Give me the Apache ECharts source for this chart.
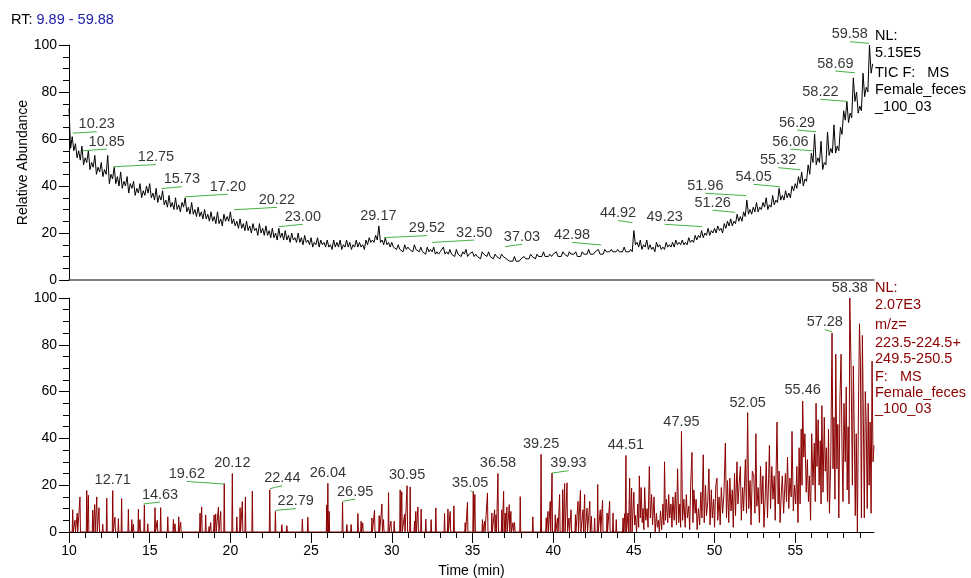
<!DOCTYPE html>
<html><head><meta charset="utf-8">
<script src="https://cdn.jsdelivr.net/npm/echarts@6/dist/echarts.min.js"></script>
<style>html,body{margin:0;padding:0;background:#fff}#c{width:971px;height:578px}</style>
</head><body><div id="c"></div>
<script>
const FONT = '"Liberation Sans", Arial, sans-serif';
const rtLabel = 'RT:';
const rtRange = '9.89 - 59.88';
const xTickLabels = [10, 15, 20, 25, 30, 35, 40, 45, 50, 55];
const xMinorTicks = [11,12,13,14,16,17,18,19,21,22,23,24,26,27,28,29,31,32,33,34,36,37,38,39,41,42,43,44,46,47,48,49,51,52,53,54,56,57,58,59];
const yTickLabels = [0, 20, 40, 60, 80, 100];

// TIC trace (top): scans at 10.0, 10.2, 10.4 ... (ticValues) and 10.1, 10.3 ... (ticValuesMid)
const ticStart = 10.0, ticStep = 0.2;
const ticValues = [
 73,61,58,55,57, 52,55,50,53,48, 50,47,53,45,48, 44,46,42,44,41, 42,39,41,38,40,
 41,37,39,36,38, 34,36,33,35,32, 33,35,31,33,30, 31,29,30,28,29, 27,29,26,28,27,
 29,26,25,26,24, 25,23,24,22,24, 22,23,21,22,20, 22,20,21,19,20, 18,20,18,19,17,
 18,16,18,17,16, 17,15,17,16,17, 15,17,16,15,17, 16,15,17,18,17, 19,23,17,18,16,
 16,14,15,13,15, 14,13,15,13,14, 12,14,13,14,12, 12,14,12,13,11, 13,11,12,13,11,
 12,11,10,12,11, 12,10,11,10,11, 10,9,8,10,8, 9,10,9,11,10, 11,10,12,10,11,
 11,12,10,12,11, 12,11,12,10,12, 11,13,11,12,13, 11,13,12,13,12, 13,12,14,12,13,
 21,16,17,15,17, 15,14,16,15,14, 16,15,16,17,16, 17,16,18,17,19, 19,21,20,22,21,
 22,23,22,24,25, 26,25,28,27,29, 34,30,31,33,31, 33,35,32,36,34, 39,36,38,37,40,
 41,44,46,43,49, 54,62,52,59,50, 63,56,66,57,65, 72,76,71,86,80, 74,88,82,100,92
];
const ticValuesMid = [
 56,55,52,51,49, 50,47,48,45,46, 44,45,41,43,41, 40,39,40,37,39, 36,37,35,36,37,
 35,34,33,34,32, 31,31,30,30,29, 31,29,28,28,27, 27,26,26,25,25, 24,24,23,25,25,
 24,23,22,22,21, 21,20,21,19,20, 19,19,18,18,17, 18,17,17,16,17, 16,16,15,16,15,
 14,15,14,15,14, 14,13,14,14,13, 14,14,13,14,14, 14,13,15,16,16, 17,16,15,15,14,
 14,13,13,12,13, 13,12,13,12,12, 11,12,12,11,11, 12,11,11,11,10, 11,10,11,10,11,
 10,10,9,11,10, 10,9,10,9,10, 9,8,8,8,8, 9,9,9,10,9, 10,10,10,10,10,
 11,10,10,11,10, 11,11,10,10,11, 11,11,11,12,11, 11,12,12,12,12, 12,12,12,12,12,
 15,14,13,14,13, 13,12,14,13,13, 14,14,14,15,15, 15,15,16,16,17, 18,18,19,19,20,
 20,21,20,22,23, 23,24,25,25,27, 28,28,29,29,30, 31,30,31,32,33, 34,34,35,35,38,
 39,41,40,42,45, 50,49,50,47,49, 53,54,54,55,62, 68,67,69,76,71, 72,78,80,88
];

// Extracted ion trace (bottom): isolated spikes [time, height] on a zero baseline
const xicSpikes = [
 [10.23,9.5],[10.37,5],[10.51,8],[10.68,15],[11.10,17.7],[11.20,15.7],[11.47,9.3],[11.59,11.7],[11.72,15],[11.86,10.4],
 [12.09,3.3],[12.34,14.5],[12.71,17.7],[12.85,6.3],[13.06,5.7],[13.26,14.3],[13.68,9.7],[13.89,5.3],[13.99,3.3],[14.30,9.7],
 [14.40,5.3],[14.67,11.6],[14.88,3.5],[15.33,10.4],[15.47,5],[15.68,10.4],[16.12,6.5],[16.47,5.4],[16.57,3.5],[16.80,6.5],
 [16.92,4.2],[18.12,8],[18.22,10.7],[18.47,7.3],[18.68,2.3],[18.78,4],[18.99,7.3],[19.09,7.7],[19.26,10.7],[19.40,8.8],
 [19.62,20.7],[20.12,25],[20.40,6.5],[20.60,10.4],[20.74,13],[20.93,15],[21.36,17.5],[22.44,18],[22.79,8.8],[23.19,3.1],
 [23.50,2.7],[24.46,5.5],[24.80,6.3],[25.97,11.6],[26.04,20.8],[26.12,8.8],[26.95,12.7],[27.22,3.2],[27.48,3.2],[27.90,7.9],
 [28.10,4.6],[28.20,3.9],[28.77,6],[28.93,9.3],[29.22,7],[29.39,12],[29.49,5.3],[29.80,16.8],[29.95,4.6],[30.15,4.6],
 [30.52,18],[30.62,17.2],[30.79,7.6],[30.95,19.8],[31.14,19.3],[31.41,4.6],[31.49,8.8],[31.62,10.7],[31.82,9.8],[32.11,5.5],
 [32.44,5.3],[32.73,10.3],[33.27,7.9],[33.48,9.8],[33.62,8.8],[33.85,11.2],[34.55,4],[34.69,12.7],[35.05,17.4],[35.15,16],
 [35.62,5.3],[35.75,4.6],[35.93,16.7],[36.20,8.1],[36.37,9.5],[36.46,7.4],[36.58,25],[36.82,9.5],[36.93,17.4],[37.03,8.1],
 [37.13,10.7],[37.28,11.7],[37.38,8.8],[37.51,4],[37.61,4],[37.96,15.1],[38.74,6.5],[39.25,33.2],[39.57,6.1],[39.68,8.8],
 [39.82,13.1],[39.93,25.2],[40.13,7.4],[40.27,6],[40.40,16],[40.59,18.1],[40.71,20.7],[40.86,21],[40.98,6],[41.11,9.5],
 [41.38,7.4],[41.54,13.1],[41.69,17.8],[41.85,9.5],[41.95,16],[42.10,10.2],[42.27,13.1],[42.37,6.7],[42.57,6],[42.76,20.3],
 [42.92,9.5],[43.06,13.5],[43.34,8.1],[43.50,13.1],[43.71,8.1],[43.91,5.3],[44.33,6],[44.43,7.8],[44.51,32.7],[44.64,8.1],
 [44.74,23],[44.86,18.8]
];
// Extracted ion trace (bottom): dense region [time, value]
const xicDense = [
 [44.93,0],[45.0,17],[45.05,3],[45.1,7],[45.17,0],[45.24,12],[45.3,2],[45.34,24],[45.4,6],[45.45,19],[45.52,4],[45.57,10],[45.62,1],
 [45.67,19],[45.74,5],[45.82,10],[45.88,2],[45.96,28],[46.02,6],[46.1,16],[46.16,3],[46.25,15],[46.32,0],[46.4,8],[46.46,2],
 [46.52,5],[46.58,0],[46.65,9],[46.72,1],[46.8,12],[46.86,3],[46.9,30],[46.96,5],[47.02,14],[47.1,4],[47.16,16],[47.22,6],
 [47.3,12],[47.36,2],[47.42,15],[47.5,5],[47.57,17],[47.64,3],[47.71,27],[47.78,4],[47.85,12],[47.9,2],[47.95,43],[48.02,5],
 [48.1,14],[48.18,2],[48.25,16],[48.32,6],[48.4,11],[48.46,1],[48.52,20],[48.6,34],[48.66,4],[48.72,18],[48.8,8],[48.86,14],
 [48.92,1],[49.0,10],[49.08,3],[49.15,17],[49.22,6],[49.3,33],[49.36,4],[49.44,20],[49.5,7],[49.58,13],[49.65,27],[49.72,3],
 [49.8,18],[49.86,6],[49.94,14],[50.0,2],[50.08,20],[50.15,23],[50.2,5],[50.28,15],[50.35,3],[50.42,19],[50.5,8],[50.58,16],
 [50.67,38],[50.74,6],[50.8,22],[50.88,4],[50.95,23],[51.02,9],[51.1,18],[51.16,2],[51.24,25],[51.3,7],[51.39,30],[51.45,12],
 [51.52,20],[51.6,28],[51.66,5],[51.74,19],[51.8,9],[51.91,31],[51.98,8],[52.05,51],[52.12,10],[52.2,22],[52.26,3],[52.34,26],
 [52.43,24],[52.5,8],[52.56,42],[52.62,11],[52.7,19],[52.78,4],[52.85,28],[52.92,12],[53.0,24],[53.06,2],[53.13,13],[53.2,30],
 [53.28,6],[53.35,23],[53.4,37],[53.47,10],[53.55,28],[53.62,14],[53.7,24],[53.76,5],[53.87,47],[53.94,12],[54.0,26],[54.06,4],
 [54.14,17],[54.2,24],[54.28,8],[54.39,25],[54.46,13],[54.52,32],[54.6,10],[54.67,23],[54.75,15],[54.8,43],[54.88,9],[54.96,20],
 [55.03,12],[55.1,28],[55.17,4],[55.24,36],[55.3,12],[55.37,44],[55.42,20],[55.46,56],[55.53,32],[55.6,42],[55.68,17],[55.75,31],
 [55.82,13],[55.88,24],[55.95,5],[56.02,42],[56.1,20],[56.18,38],[56.24,13],[56.29,55],[56.35,28],[56.42,48],[56.48,20],[56.55,39],
 [56.6,12],[56.65,54],[56.72,17],[56.8,49],[56.86,26],[56.93,36],[57.0,13],[57.06,44],[57.12,8],[57.2,30],[57.28,85],[57.34,27],
 [57.4,49],[57.46,14],[57.51,76],[57.58,27],[57.64,46],[57.7,6],[57.77,57],[57.84,76],[57.9,34],[57.96,13],[58.02,55],[58.1,30],
 [58.16,62],[58.22,18],[58.28,45],[58.33,12],[58.38,100],[58.46,70],[58.54,20],[58.6,71],[58.66,42],[58.72,7],[58.78,42],[58.85,0],
 [58.92,55],[58.98,89],[59.04,72],[59.1,6],[59.16,84],[59.22,49],[59.28,6],[59.34,60],[59.4,46],[59.46,10],[59.52,55],[59.58,20],
 [59.64,47],[59.7,8],[59.76,73],[59.82,30],[59.88,37]
];

// Peak annotations: [label, peak time, peak value, label anchor time, label anchor value]
const ticPeaks = [
 ['10.23',10.23,62.5,11.72,63.1],['10.85',10.85,55.0,12.34,55.7],['12.75',12.75,48.2,15.39,49.1],
 ['15.73',15.73,38.9,16.99,39.7],['17.20',17.20,35.4,19.84,36.5],['20.22',20.22,29.9,22.88,30.9],
 ['23.00',23.00,22.7,24.49,23.7],['29.17',29.17,22.7,29.17,22.7],['29.52',29.52,18.0,32.18,18.9],
 ['32.50',32.50,16.0,35.11,17.0],['37.03',37.03,14.2,38.07,15.2],['42.98',42.98,14.9,41.17,16.0],
 ['44.92',44.92,24.4,44.02,25.3],['49.23',49.23,22.7,46.91,23.7],['51.26',51.26,28.8,49.88,29.7],
 ['51.96',51.96,35.9,49.43,36.9],['54.05',54.05,39.7,52.42,40.7],['55.32',55.32,46.9,53.94,47.8],
 ['56.06',56.06,55.0,54.70,55.7],['56.29',56.29,63.1,55.11,63.8],['58.22',58.22,76.0,56.56,76.9],
 ['58.69',58.69,88.2,57.49,88.9],['59.58',59.58,100.7,58.38,101.4]
];
const xicPeaks = [
 ['12.71',12.71,17.7,12.71,17.7],['14.63',14.63,12.0,15.64,12.8],['19.62',19.62,20.5,17.30,21.6],
 ['20.12',20.12,25,20.12,25],['22.44',22.44,18.5,23.22,19.8],['22.79',22.79,9.2,24.05,10.0],
 ['26.04',26.04,20.8,26.04,20.8],['26.95',26.95,13.1,27.73,14.1],['30.95',30.95,19.8,30.95,19.8],
 ['35.05',35.05,16.9,34.86,17.8],['36.58',36.58,25,36.58,25],['39.25',39.25,33.2,39.25,33.2],
 ['39.93',39.93,25.2,40.95,26.2],['44.51',44.51,32.7,44.51,32.7],['47.95',47.95,42.6,47.95,42.6],
 ['52.05',52.05,50.6,52.05,50.6],['55.46',55.46,56.2,55.46,56.2],['57.28',57.28,85.5,56.83,86.5],
 ['58.38',58.38,100,58.38,100]
];

const ticInfo = ['NL:', '5.15E5', 'TIC F:   MS', 'Female_feces', '_100_03'];
const xicInfo = ['NL:', '2.07E3', 'm/z=', '223.5-224.5+', '249.5-250.5', 'F:   MS', 'Female_feces', '_100_03'];

// ---- build library data ----
const ticData = [];
ticValues.forEach((v, i) => {
  const t = ticStart + i * ticStep;
  ticData.push([+t.toFixed(2), v]);
  if (i < ticValuesMid.length) ticData.push([+(t + ticStep / 2).toFixed(2), ticValuesMid[i]]);
});
const xicData = [];
xicData.push([10, 0]);
xicSpikes.forEach(([t, h]) => { xicData.push([t - 0.03, 0], [t, h], [t + 0.03, 0]); });
xicDense.forEach(p => xicData.push(p));

const GREEN = '#44b244';
const RED = '#8b0000';
function leaderLines(peaks) {
  return peaks.filter(p => p[1] !== p[3] || p[2] !== p[4]).map(p => ({ coords: [[p[1], p[2]], [p[3], p[4]]] }));
}
function labelPoints(peaks) {
  return peaks.map(p => {
    const hasLine = p[1] !== p[3] || p[2] !== p[4];
    return { name: p[0], value: [p[3], p[4]], label: { distance: hasLine ? 0 : 3 } };
  });
}

const chart = echarts.init(document.getElementById('c'), null, { renderer: 'canvas' });
const axisText = { color: '#000', fontSize: 14, fontFamily: FONT };
function yAx(gi, withName) {
  return {
    type: 'value', gridIndex: gi, min: 0, max: 100, interval: 20,
    axisLine: { show: true, lineStyle: { color: '#000', width: 1 } },
    axisTick: { show: true, length: 10, lineStyle: { color: '#000' } },
    minorTick: { show: true, splitNumber: 4, length: 6, lineStyle: { color: '#000' } },
    axisLabel: Object.assign({ margin: 12, customValues: yTickLabels }, axisText),
    splitLine: { show: false },
    name: withName ? 'Relative Abundance' : '',
    nameLocation: 'middle', nameGap: 39, nameRotate: 90, nameMoveOverlap: false,
    nameTextStyle: { color: '#000', fontSize: 14, fontFamily: FONT }
  };
}
const option = {
  animation: false,
  backgroundColor: '#fff',
  title: {
    text: '{a|' + rtLabel + ' }{b|' + rtRange + '}',
    left: 11, top: 12, padding: 0,
    textStyle: { fontWeight: 'normal', rich: {
      a: { color: '#000', fontSize: 14.5, fontFamily: FONT, fontWeight: 'normal' },
      b: { color: '#1c1ca8', fontSize: 14.5, fontFamily: FONT, fontWeight: 'normal' }
    } }
  },
  grid: [
    { left: 69, right: 97, top: 45, height: 235, outerBoundsMode: 'none' },
    { left: 69, right: 97, top: 298, height: 234, outerBoundsMode: 'none' }
  ],
  xAxis: [
    { type: 'value', gridIndex: 0, min: 10, max: 59.88,
      axisLine: { show: true, onZero: false, lineStyle: { color: '#555', width: 1.5 } },
      axisTick: { show: false }, axisLabel: { show: false }, splitLine: { show: false } },
    { type: 'value', gridIndex: 1, min: 10, max: 59.88, position: 'bottom',
      axisLine: { show: true, onZero: false, lineStyle: { color: '#000', width: 1 } },
      axisTick: { show: true, length: 11, customValues: xTickLabels, lineStyle: { color: '#000' } },
      axisLabel: Object.assign({ margin: 12, customValues: xTickLabels }, axisText),
      splitLine: { show: false },
      name: 'Time (min)', nameLocation: 'middle', nameGap: 32, nameMoveOverlap: false,
      nameTextStyle: { color: '#000', fontSize: 14, fontFamily: FONT } },
    { type: 'value', gridIndex: 1, min: 10, max: 59.88, position: 'bottom',
      axisLine: { show: false, onZero: false },
      axisTick: { show: true, length: 6, customValues: xMinorTicks, lineStyle: { color: '#000' } },
      axisLabel: { show: false }, splitLine: { show: false } }
  ],
  yAxis: [yAx(0, true), yAx(1, false)],
  series: [
    { type: 'line', xAxisIndex: 0, yAxisIndex: 0, data: ticData, showSymbol: false, symbol: 'none',
      lineStyle: { color: '#000', width: 1 }, z: 3 },
    { type: 'line', xAxisIndex: 1, yAxisIndex: 1, data: xicData, showSymbol: false, symbol: 'none',
      lineStyle: { color: RED, width: 1 }, z: 3 },
    { type: 'lines', coordinateSystem: 'cartesian2d', xAxisIndex: 0, yAxisIndex: 0, data: leaderLines(ticPeaks),
      lineStyle: { color: GREEN, width: 1, opacity: 1, curveness: 0 }, z: 4, clip: false },
    { type: 'lines', coordinateSystem: 'cartesian2d', xAxisIndex: 1, yAxisIndex: 1, data: leaderLines(xicPeaks),
      lineStyle: { color: GREEN, width: 1, opacity: 1, curveness: 0 }, z: 4, clip: false },
    { type: 'scatter', xAxisIndex: 0, yAxisIndex: 0, data: labelPoints(ticPeaks), symbolSize: 0, clip: false, z: 5,
      label: { show: true, position: 'top', formatter: '{b}', color: '#000', fontSize: 14.5, fontFamily: FONT } },
    { type: 'scatter', xAxisIndex: 1, yAxisIndex: 1, data: labelPoints(xicPeaks), symbolSize: 0, clip: false, z: 5,
      label: { show: true, position: 'top', formatter: '{b}', color: '#000', fontSize: 14.5, fontFamily: FONT } }
  ],
  graphic: []
};
const ticInfoY = [35.7, 52.7, 72.7, 90, 107];
const xicInfoY = [288.3, 305, 325, 342.7, 359.3, 376.7, 393.3, 409.3];
ticInfo.forEach((t, i) => option.graphic.push({ type: 'text', x: 875, y: ticInfoY[i],
  style: { text: t, fill: '#000', font: '14.5px ' + FONT, verticalAlign: 'middle', align: 'left' } }));
xicInfo.forEach((t, i) => option.graphic.push({ type: 'text', x: 875, y: xicInfoY[i],
  style: { text: t, fill: RED, font: '14.5px ' + FONT, verticalAlign: 'middle', align: 'left' } }));
chart.setOption(option);
</script></body></html>
